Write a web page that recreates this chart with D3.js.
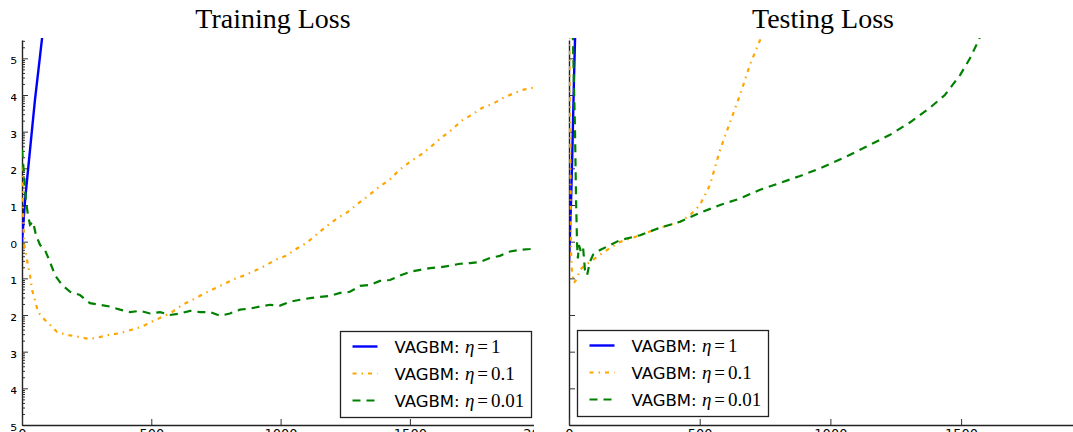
<!DOCTYPE html>
<html>
<head>
<meta charset="utf-8">
<script src="https://cdn.jsdelivr.net/npm/d3@7"></script>
<style>
  body { margin: 0; background: #fff; }
  svg { display: block; }
</style>
</head>
<body>
<svg id="svg1" width="1073" height="432"></svg>
<script>
// two loss panels, log y axis, clipped like the original figure

// training loss
var trainIterEta1 = [0, 12, 31, 50, 70, 90];
var trainLossEta1 = [1.0, 14, 320, 7200, 1.2e5, 2.1e6];

var trainIterEta01 = [0, 3, 6, 10, 23, 31, 39, 50, 62, 81, 108, 135, 170, 225, 260, 300, 340, 380, 420, 460,
  500, 540, 580, 620, 660, 700, 740, 780, 820, 860, 900, 940, 980, 1020, 1060, 1100, 1140, 1180, 1220, 1260,
  1300, 1340, 1380, 1420, 1460, 1500, 1540, 1580, 1620, 1660, 1700, 1740, 1780, 1820, 1860, 1900, 1940, 1980, 2000];
var trainLossEta01 = [110, 14, 2.1, 0.72, 0.23, 0.12, 0.048, 0.026, 0.012, 0.0083, 0.0054, 0.0035, 0.0029, 0.0025, 0.0022, 0.0025, 0.0029, 0.0032, 0.0039, 0.0047,
  0.0065, 0.0087, 0.012, 0.019, 0.026, 0.037, 0.051, 0.069, 0.095, 0.12, 0.16, 0.22, 0.32, 0.41, 0.63, 0.92, 1.6, 2.7, 4.4, 6.5,
  11, 18, 31, 48, 91, 150, 230, 380, 670, 1100, 2000, 2900, 4500, 5700, 8300, 11000, 14000, 16000, 17000];

var trainIterEta001 = [0, 8, 15, 23, 31, 43, 54, 70, 89, 108, 128, 155, 186, 224, 263, 302, 340, 379, 418, 456,
  495, 534, 572, 611, 650, 689, 727, 766, 804, 843, 882, 920, 959, 998, 1036, 1075, 1114, 1152, 1191, 1230,
  1268, 1307, 1346, 1384, 1423, 1462, 1500, 1540, 1578, 1617, 1655, 1694, 1732, 1771, 1810, 1848, 1887, 1926, 1964, 2000];
var trainLossEta001 = [320, 66, 14, 5.3, 2.9, 3.5, 1.5, 0.81, 0.59, 0.28, 0.12, 0.066, 0.043, 0.035, 0.021, 0.019, 0.017, 0.014, 0.012, 0.013,
  0.011, 0.012, 0.010, 0.011, 0.013, 0.012, 0.012, 0.0095, 0.011, 0.014, 0.015, 0.017, 0.019, 0.018, 0.023, 0.026, 0.029, 0.031, 0.033, 0.040,
  0.043, 0.062, 0.066, 0.085, 0.09, 0.12, 0.15, 0.17, 0.19, 0.20, 0.22, 0.25, 0.26, 0.28, 0.36, 0.41, 0.54, 0.60, 0.63, 0.72];

// testing loss
var testIterEta1 = [0, 8, 13, 19, 23, 30];
var testLossEta1 = [0.28, 14, 320, 26000, 3.2e5, 4e6];

var testIterEta01 = [0, 3, 6, 8, 11, 19, 31, 42, 61, 80, 119, 157, 195, 272, 348, 425, 463, 501, 539, 578, 616, 654, 692, 731, 750];
var testLossEta01 = [3e6, 1e4, 30, 0.44, 0.17, 0.075, 0.10, 0.17, 0.23, 0.28, 0.44, 0.67, 0.98, 1.5, 2.4, 3.5, 5.3, 10, 35, 320, 1800, 10000, 66000, 3.2e5, 8.1e5];

var testIterEta001 = [0, 15, 23, 27, 31, 34, 38, 46, 54, 61, 69, 80, 92, 119, 157, 195, 272, 348, 425, 501,
  578, 654, 731, 807, 884, 960, 1056, 1152, 1228, 1305, 1381, 1438, 1496, 1534, 1564, 1600];
var testLossEta001 = [1e8, 3.2e5, 1100, 14, 0.81, 0.35, 0.81, 0.52, 0.67, 0.17, 0.12, 0.28, 0.44, 0.59, 0.81, 1.1, 1.5, 2.4, 3.5, 6.1,
  10, 15, 26, 40, 62, 100, 200, 440, 820, 1800, 4500, 10000, 35000, 1e5, 2.8e5, 1.1e6];

var xTicks = [0, 500, 1000, 1500, 2000];
var etaLabels = ["1", "0.1", "0.01"];
var seriesColors = ["#0000ff", "#ffa500", "#008000"];
var seriesDash = [null, "4,5,1.5,5", "8,6"];

var svg = d3.select("#svg1");
svg.append("rect").attr("width", 1073).attr("height", 432).attr("fill", "#fff");

var defs = svg.append("defs");

var plotTop = 40, plotBottom = 425;

var supMap = {"-": "\u207B", "0": "\u2070", "1": "\u00B9", "2": "\u00B2", "3": "\u00B3",
  "4": "\u2074", "5": "\u2075", "6": "\u2076", "7": "\u2077", "8": "\u2078", "9": "\u2079"};
function expLabel(d) {
  var e = String(Math.round(Math.log10(d)));
  return "10" + e.split("").map(function (c) { return supMap[c]; }).join("");
}
function isMajor(d) {
  var l = Math.log10(d);
  return Math.abs(l - Math.round(l)) < 1e-6;
}

function drawPanel(p) {
  defs.append("clipPath").attr("id", p.id + "-panel")
    .append("rect").attr("x", p.clipLeft).attr("y", 0)
    .attr("width", p.clipRight - p.clipLeft).attr("height", 432);
  defs.append("clipPath").attr("id", p.id + "-plot")
    .append("rect").attr("x", p.x0).attr("y", plotTop - 2)
    .attr("width", p.clipRight - p.x0).attr("height", plotBottom - plotTop + 2);

  var x = d3.scaleLinear().domain([0, 2000]).range([p.x0, p.x0 + p.per500 * 4]);
  var y = d3.scaleLog().domain([1e-5, Math.pow(10, 5.5)]).range([plotBottom, plotTop]);

  var g = svg.append("g").attr("clip-path", "url(#" + p.id + "-panel)");

  // title
  svg.append("text")
    .attr("x", p.titleX).attr("y", 28)
    .attr("text-anchor", "middle")
    .attr("font-family", "Liberation Serif, serif")
    .attr("font-size", 28)
    .attr("fill", "#000")
    .text(p.title);

  var allTicks = y.ticks(100);
  var minor = allTicks.filter(function (d) { return !isMajor(d); });
  var major = allTicks.filter(isMajor);

  // y axis: ticks point inward
  if (p.minorTicks) {
    g.append("g").attr("transform", "translate(" + p.x0 + ",0)")
      .call(d3.axisLeft(y).tickValues(minor).tickFormat("").tickSizeInner(-3).tickSizeOuter(0))
      .call(function (a) { a.select(".domain").remove(); a.selectAll("line").attr("stroke", "#333"); });
  }
  var ya = g.append("g").attr("transform", "translate(" + p.x0 + ",0)")
    .call(d3.axisLeft(y).tickValues(major)
      .tickFormat(p.yLabels ? expLabel : "")
      .tickSizeInner(-6).tickSizeOuter(0).tickPadding(5));
  ya.select(".domain").attr("stroke", "#222").attr("stroke-width", 1.4);
  ya.selectAll("line").attr("stroke", "#333");
  ya.selectAll("text")
    .attr("font-family", "DejaVu Sans, sans-serif")
    .attr("font-size", 17)
    .attr("dy", "0.68em")
    .attr("fill", "#000");

  // x axis
  var xa = g.append("g").attr("transform", "translate(0," + plotBottom + ")")
    .call(d3.axisBottom(x).tickValues(xTicks).tickFormat(d3.format("d"))
      .tickSizeInner(-6).tickSizeOuter(0).tickPadding(4));
  xa.select(".domain").attr("stroke", "#222").attr("stroke-width", 1.4);
  xa.selectAll("line").attr("stroke", "#333");
  xa.selectAll("text")
    .attr("font-family", "DejaVu Sans, sans-serif")
    .attr("font-size", 13)
    .attr("fill", "#000");

  // lines
  var plot = g.append("g").attr("clip-path", "url(#" + p.id + "-plot)");
  var line = d3.line()
    .x(function (d) { return x(d[0]); })
    .y(function (d) { return y(d[1]); });

  p.series.forEach(function (s, i) {
    var pts = d3.zip(s.iters, s.loss);
    plot.append("path")
      .datum(pts)
      .attr("fill", "none")
      .attr("stroke", seriesColors[i])
      .attr("stroke-width", i == 0 ? 2.4 : 2.2)
      .attr("stroke-dasharray", seriesDash[i])
      .attr("d", line);
  });

  // legend
  var lg = svg.append("g").attr("transform", "translate(" + p.legX + "," + p.legY + ")");
  lg.append("rect")
    .attr("width", 191).attr("height", 86)
    .attr("fill", "#fff").attr("stroke", "#222").attr("stroke-width", 1.3);
  etaLabels.forEach(function (lab, i) {
    var ry = 15 + i * 27;
    lg.append("line")
      .attr("x1", 12).attr("x2", 37).attr("y1", ry).attr("y2", ry)
      .attr("stroke", seriesColors[i])
      .attr("stroke-width", i == 0 ? 2.4 : 2.2)
      .attr("stroke-dasharray", seriesDash[i]);
    var t = lg.append("text")
      .attr("x", 54).attr("y", ry + 6)
      .attr("fill", "#000");
    t.append("tspan")
      .attr("font-family", "DejaVu Sans, sans-serif")
      .attr("font-size", 16.5)
      .text("VAGBM: ");
    t.append("tspan")
      .attr("font-family", "Liberation Serif, serif")
      .attr("font-style", "italic")
      .attr("font-size", 19)
      .text("\u03B7");
    t.append("tspan")
      .attr("font-family", "Liberation Serif, serif")
      .attr("font-size", 19)
      .attr("dx", 3)
      .text("=");
    t.append("tspan")
      .attr("font-family", "Liberation Serif, serif")
      .attr("font-size", 19)
      .attr("dx", 3)
      .text(lab);
  });
}

drawPanel({
  id: "train", title: "Training Loss", titleX: 273,
  x0: 22, per500: 129.3, clipLeft: 11, clipRight: 534,
  yLabels: true, minorTicks: true,
  legX: 340.5, legY: 331.5,
  series: [
    {iters: trainIterEta1, loss: trainLossEta1},
    {iters: trainIterEta01, loss: trainLossEta01},
    {iters: trainIterEta001, loss: trainLossEta001}
  ]
});

drawPanel({
  id: "test", title: "Testing Loss", titleX: 823,
  x0: 569, per500: 130.7, clipLeft: 556, clipRight: 1073,
  yLabels: false, minorTicks: false,
  legX: 577.5, legY: 330.5,
  series: [
    {iters: testIterEta1, loss: testLossEta1},
    {iters: testIterEta01, loss: testLossEta01},
    {iters: testIterEta001, loss: testLossEta001}
  ]
});
</script>
</body>
</html>
